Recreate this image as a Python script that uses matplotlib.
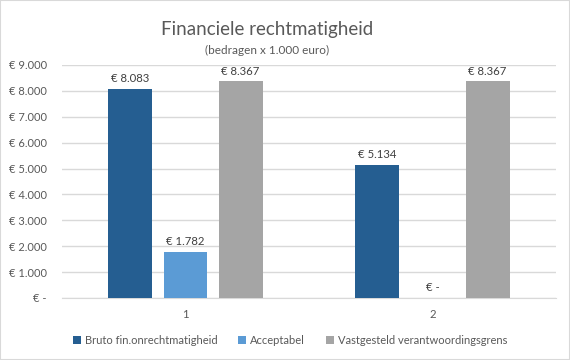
import matplotlib
matplotlib.use("Agg")
import matplotlib.pyplot as plt
from matplotlib.patches import Rectangle
import numpy as np

categories = ["1", "2"]
series_names = ["Bruto fin.onrechtmatigheid", "Acceptabel", "Vastgesteld verantwoordingsgrens"]
bruto = [8083, 5134]
acceptabel = [1782, 0]
grens = [8367, 8367]
yticks = [0, 1000, 2000, 3000, 4000, 5000, 6000, 7000, 8000, 9000]
colors = ["#255E91", "#5B9BD5", "#A5A5A5"]

plt.rcParams['font.family'] = ['Lato', 'DejaVu Sans']

def euro(v):
    if v == 0:
        return "€ -"
    return "€ " + f"{v:,.0f}".replace(",", ".")

fig = plt.figure(figsize=(5.7, 3.6), dpi=100)
fig.patches.append(Rectangle((0, 0), 1, 1, transform=fig.transFigure,
                             fill=False, edgecolor="#D9D9D9", linewidth=1.5))
ax = fig.add_axes([62/570, 1-298/360, (556-62)/570, (298-65)/360])

x = np.arange(len(categories))
w = 0.178
step = 0.223
for i, (vals, name) in enumerate(zip([bruto, acceptabel, grens], series_names)):
    pos = x + (i - 1) * step
    ax.bar(pos, vals, width=w, color=colors[i], label=name, zorder=3)
    for p, v in zip(pos, vals):
        ax.text(p, v + 180, euro(v), ha="center", va="bottom",
                fontsize=8.2, color="#404040")

ax.set_xlim(-0.5, 1.5)
ax.set_ylim(0, 9000)
ax.set_yticks(yticks)
ax.set_yticklabels([euro(v) for v in yticks], fontsize=8, color="#595959")
ax.set_xticks(x)
ax.set_xticklabels(categories, fontsize=8.2, color="#595959")
ax.tick_params(axis="both", length=0)
ax.tick_params(axis="y", pad=11)
ax.tick_params(axis="x", pad=8)
ax.grid(axis="y", color="#D9D9D9", linewidth=1, zorder=0)
for s in ["top", "right", "left"]:
    ax.spines[s].set_visible(False)
ax.spines["bottom"].set_color("#D9D9D9")

fig.text(267/570, 1-29/360, "Financiele rechtmatigheid", ha="center", va="center",
         fontsize=13.5, color="#595959")
fig.text(267/570, 1-50/360, "(bedragen x 1.000 euro)", ha="center", va="center",
         fontsize=8.5, color="#595959")

leg = fig.legend(loc="center", bbox_to_anchor=(290/570, 1-340/360), ncol=3,
                 frameon=False, fontsize=8, handlelength=0.7, handleheight=0.7,
                 columnspacing=1.9, handletextpad=0.35)
for t in leg.get_texts():
    t.set_color("#595959")

fig.savefig("out.png", dpi=100)
